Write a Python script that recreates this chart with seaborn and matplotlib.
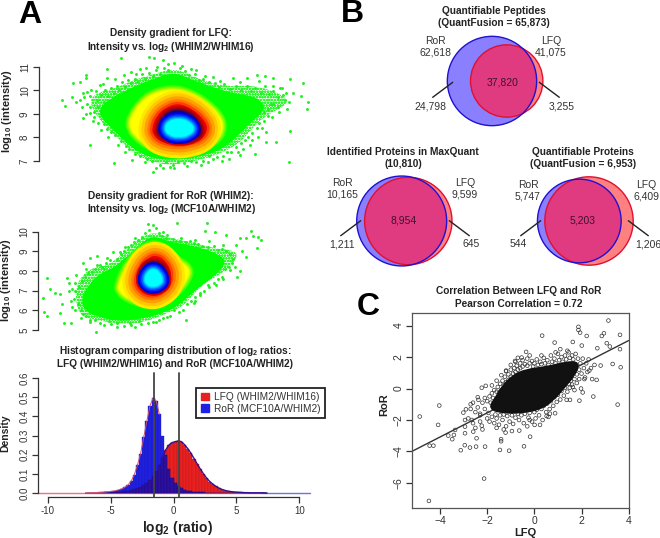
import numpy as np
import matplotlib
matplotlib.use("Agg")
import matplotlib.pyplot as plt
from matplotlib.path import Path
from matplotlib.patches import PathPatch, Circle, Patch
import seaborn as sns

sns.set_theme(style="white")
plt.rcParams["font.family"] = ["Liberation Sans", "DejaVu Sans"]
plt.rcParams["mathtext.fontset"] = "custom"
plt.rcParams["mathtext.rm"] = "Liberation Sans"
plt.rcParams["mathtext.bf"] = "Liberation Sans:bold"
plt.rcParams["hatch.linewidth"] = 0.8

# ---------- panel A, LFQ density gradient (log2 ratio, log10 intensity) ----------
lfq_halo = [(-6.3,9.59),(-5.5,9.94),(-4.4,10.08),(-3.1,10.43),(-1.9,10.65),(-0.2,10.93),(1.0,10.65),(2.1,10.36),
            (3.6,10.15),(5.5,10.22),(7.4,9.87),(8.1,9.45),(6.4,8.95),(5.5,8.46),(4.5,7.75),(2.9,7.25),(0.7,6.90),
            (-1.2,6.83),(-2.9,7.25),(-3.8,7.75),(-4.8,8.31),(-5.7,8.88)]
lfq_cloud = [(-5.48,9.30),(-4.52,9.73),(-3.1,10.15),(-1.9,10.43),(-0.24,10.79),(1.19,10.43),(2.62,10.12),(4.05,9.87),
             (5.71,9.73),(6.43,9.23),(5.48,8.74),(4.52,8.17),(3.57,7.61),(2.14,7.25),(0.24,7.04),(-1.43,7.07),
             (-2.86,7.40),(-3.81,7.89),(-4.76,8.46),(-5.48,8.88)]
lfq_yellow = [(-3.33,8.74),(-2.62,9.45),(-1.67,9.87),(-0.24,10.05),(0.95,9.87),(2.14,9.45),(3.1,8.88),(3.29,8.39),
              (2.86,7.89),(1.67,7.61),(0,7.47),(-1.9,7.61),(-2.86,8.03),(-3.29,8.39)]
lfq_red = [(-1.79,8.39),(-1.43,8.95),(-0.71,9.30),(0.12,9.45),(1.07,9.23),(1.9,8.81),(2.26,8.39),(1.9,7.96),
           (0.95,7.75),(0,7.68),(-1.19,7.82),(-1.67,8.10)]
lfq_navy = [(-1.31,8.39),(-0.95,8.88),(-0.24,9.16),(0.71,9.09),(1.43,8.74),(1.79,8.24),(1.31,7.96),(0.24,7.82),
            (-0.83,7.96),(-1.24,8.17)]
lfq_cyan = [(-0.9,8.39),(-0.6,8.71),(0.12,8.81),(0.83,8.71),(1.31,8.39),(0.95,8.10),(0.12,7.99),(-0.6,8.10)]
lfq_points = [(-8.2,9.61),(-8.0,9.33),(-7.4,10.32),(-6.9,10.36),(-6.5,10.65),(-6.5,10.51),(-7.5,9.7),(-7.2,9.52),
              (-6.9,9.59),(-6.7,8.81),(-6.2,7.68),(-4.5,6.93),(-4.0,11.35),(-2.0,11.42),(-1.6,11.35),(-1.0,11.28),
              (-5.0,10.9),(-0.2,11.17),(-1.7,6.55),(-1.0,6.69),(-0.2,6.69),(0.7,6.8),(1.7,6.83),(4.5,7.25),(5.6,7.28),
              (8.0,6.94),(6.4,8.24),(6.4,7.82),(7.1,7.82),(8.1,8.29),(9.3,9.19),(8.9,9.76),(9.4,9.52),(9.0,10.29),
              (8.1,10.46),(7.5,10.08),(6.9,10.51),(6.3,10.6),(5.7,10.65),(5.0,10.51),(4.0,10.51),(2.6,10.55),
              (1.4,10.86),(-2.6,10.89),(-3.3,10.79),(-4.4,10.46),(-5.0,10.51),(-5.5,10.22),(-6.2,9.3),(-6.4,9.94),
              (8.3,9.87),(7.7,9.59),(6.9,10.2),(5.9,10.4),(7.9,9.2),(7.3,9.1),(6.7,9.4),(6.2,8.7),(5.8,8.0),(5.2,7.7),
              (4.7,7.5),(3.7,7.1),(3.2,7.0),(2.2,6.95),(-0.5,6.75),(-1.5,6.72),(-2.3,6.95),(-3.2,7.05),(-3.7,7.4),
              (-4.2,7.7),(-4.9,8.0),(-5.4,8.3),(-6.0,8.7),(-6.5,9.0),(-6.8,9.3),(-6.1,10.0),(-5.3,10.25),(-3.8,10.65),
              (-2.9,10.7),(-2.2,10.95),(-1.4,11.0),(-0.6,11.1),(0.4,11.05),(1.0,10.9),(2.0,10.6),(3.1,10.4),(4.5,10.35)]
lfq_fringe = [(-5.9,9.1),(-5.7,9.6),(-5.6,9.3),(-5.4,9.8),(-5.2,9.5),(-5.1,10.0),(-4.9,9.75),(-4.7,10.1),(-4.5,9.9),(-4.3,10.2),
              (-4.1,10.0),(-3.9,10.35),(-3.7,10.15),(-3.5,10.45),(-3.3,10.3),(-3.0,10.5),(-2.8,10.35),(-2.5,10.7),(-2.3,10.5),
              (-2.0,10.75),(-1.7,10.6),(-1.5,10.85),(-1.2,10.7),(-0.9,10.95),(-0.6,10.85),(0.2,10.95),(0.6,10.8),(0.9,10.65),
              (1.3,10.7),(1.6,10.45),(1.9,10.5),(2.3,10.35),(2.7,10.3),(3.0,10.15),(3.4,10.25),(3.8,10.05),(4.2,10.2),(4.6,10.0),
              (5.0,10.2),(5.3,9.95),(5.6,10.1),(6.0,9.9),(6.3,10.2),(6.6,9.85),(6.9,9.95),(7.2,9.7),(7.4,10.1),(7.6,9.8),(7.8,9.9),
              (8.0,9.5),(6.5,9.2),(6.9,9.4),(7.2,9.3),(6.8,8.85),(6.5,8.9),(6.2,9.1),(5.9,8.6),(5.7,8.4),(6.1,8.4),(5.4,8.2),
              (5.1,8.0),(5.4,7.9),(4.9,7.9),(4.6,7.75),(4.2,7.6),(4.4,7.4),(3.9,7.4),(3.6,7.4),(3.3,7.2),(2.9,7.15),(2.6,7.1),
              (2.3,7.2),(1.9,7.0),(1.4,6.95),(1.0,7.0),(0.5,6.9),(0.1,6.95),(-0.3,6.85),(-0.8,6.95),(-1.2,6.85),(-1.8,7.0),
              (-2.1,7.1),(-2.6,7.2),(-3.0,7.3),(-3.4,7.5),(-3.6,7.65),(-4.0,7.85),(-4.4,8.1),(-4.7,8.25),(-5.0,8.35),(-5.2,8.55),
              (-5.6,8.6),(-5.9,8.85),(-6.2,9.05),(-6.4,9.4),(-6.6,9.7),(-6.2,9.75),(-5.8,9.95),(-6.7,9.9)]

# ---------- panel A, RoR density gradient ----------
ror_halo = [(-5.36,7.54),(-4.52,8.14),(-3.1,8.31),(-1.9,9.07),(-0.95,9.66),(0,10.0),(1.19,9.66),(2.62,9.49),(4.29,9.15),
            (5.71,9.07),(6.07,8.73),(5.24,8.05),(4.29,7.63),(3.33,7.2),(2.14,6.19),(0.95,5.85),(-0.48,5.42),(-2.14,5.25),
            (-4.05,5.51),(-5.24,5.68),(-5.6,6.69)]
ror_cloud = [(-4.52,7.37),(-3.81,7.88),(-2.86,8.14),(-1.9,8.73),(-0.95,9.32),(-0.12,9.83),(1.19,9.49),(2.62,9.32),(4.29,8.98),
             (5.24,8.56),(4.76,7.97),(3.81,7.46),(2.86,6.95),(1.9,6.27),(0.71,5.85),(-0.71,5.59),(-2.38,5.42),(-4.05,5.68),
             (-5,6.02),(-5.12,6.69)]
ror_yellow = [(-2.5,7.29),(-1.79,8.39),(-0.71,9.15),(0.12,9.37),(0.95,9.07),(1.43,8.64),(2.62,8.14),(2.38,7.54),
              (1.67,6.95),(0.48,6.36),(-0.71,6.36),(-1.79,6.61),(-2.38,6.95)]
ror_red = [(-1.31,7.46),(-0.95,8.22),(-0.36,8.69),(0.24,8.81),(0.83,8.56),(1.31,7.97),(1.19,7.29),(0.48,6.83),
           (-0.24,6.73),(-0.95,6.95)]
ror_navy = [(-0.95,7.54),(-0.71,8.14),(-0.24,8.42),(0.36,8.42),(0.83,8.05),(1.0,7.46),(0.6,7.07),(-0.12,6.95),(-0.71,7.17)]
ror_cyan = [(-0.67,7.58),(-0.43,7.97),(0,8.14),(0.43,7.97),(0.71,7.54),(0.48,7.29),(-0.05,7.17),(-0.48,7.29)]
ror_points = [(-7.6,7.63),(-7.9,6.61),(-7.8,5.93),(-7.6,5.73),(-7.4,7.07),(-7.0,6.9),(-6.7,6.83),(-6.5,6.31),(-6.2,7.63),
              (-6,7.37),(-5.9,5.34),(-6.4,5.34),(-6.7,5.85),(-5.8,6.15),(-5.5,7.8),(-5,8.39),(-4.5,8.64),(-4,8.76),
              (-3.3,8.64),(-2.9,8.98),(-2.4,8.98),(-4.1,4.88),(-2.6,5.14),(-5.2,5.59),(-1.7,5.34),(0.2,5.42),(2.3,5.51),
              (1.7,10.42),(3.8,10.42),(3.7,10.03),(4.4,9.97),(5.2,9.83),(7,10.03),(7.1,9.8),(7.7,9.58),(7.5,9.75),
              (6.6,9.69),(6.2,9.66),(7.4,9.15),(6.6,8.73),(6.2,8),(6,7.71),(5.5,8.05),(4.5,7.29),(3.3,6.78),(2.9,6.36),
              (-0.4,10.39),(0,10.34),(0.2,10.17),(0.7,10),(-1.3,9.66),(-2.0,9.2),(1.0,9.85),(2.0,9.7),(3.0,9.6),(4.0,9.5),
              (5.0,9.3),(5.9,9.3),(6.3,9.0),(5.8,8.2),(5.0,7.6),(4.0,7.2),(3.0,6.5),(1.8,5.9),(1.0,5.65),(-0.9,5.3),
              (-1.3,5.15),(-3.0,5.3),(-3.5,5.25),(-4.5,5.4),(-5.6,6.0),(-5.9,6.5),(-5.8,7.1),(-5.6,7.4),(-4.8,8.1),(-3.8,8.3)]
ror_fringe = [(-6.0,7.0),(-5.7,6.6),(-5.6,7.0),(-5.4,6.3),(-5.3,7.2),(-5.2,6.0),(-5.1,7.5),(-4.9,7.7),(-5.0,5.8),(-4.7,7.9),(-4.5,5.5),
              (-4.4,7.95),(-4.2,8.1),(-4.0,8.3),(-3.7,8.2),(-3.5,8.1),(-3.4,8.4),(-3.1,8.55),(-2.6,8.6),(-2.3,8.85),(-2.1,9.0),
              (-1.8,9.2),(-1.6,9.3),(-1.4,9.45),(-1.1,9.6),(-0.8,9.75),(-0.6,9.95),(-0.3,10.1),(0.4,9.95),(0.6,9.8),(0.9,9.7),
              (1.4,9.65),(1.6,9.5),(1.9,9.55),(2.3,9.45),(2.6,9.55),(2.9,9.4),(3.2,9.35),(3.5,9.25),(3.9,9.2),(4.3,9.25),(4.6,9.05),
              (4.9,9.1),(5.2,9.0),(5.5,8.85),(5.7,8.6),(5.6,8.4),(5.4,8.2),(5.1,8.1),(4.9,7.7),(4.6,7.6),(4.3,7.4),(3.9,7.3),
              (3.6,7.0),(3.3,6.9),(3.0,6.7),(2.7,6.5),(2.4,6.3),(2.1,6.0),(1.5,6.0),(1.2,5.7),(0.7,5.6),(0.4,5.5),(0,5.4),
              (-0.4,5.35),(-1.0,5.45),(-1.6,5.25),(-2.1,5.2),(-2.6,5.35),(-3.2,5.45),(-3.8,5.35),(-4.2,5.5),(-4.8,5.7)]

# ---------- panel A, histogram (bin starts at -7, bin width 0.25) ----------
hist_start, hist_width = -7.0, 0.25
lfq_density = [.001,.001,.001,.001,.002,.002,.003,.003,.004,.005,.006,.007,.009,.012,.015,.019,.025,.032,.04,.052,.068,.09,
               .115,.145,.185,.225,.25,.263,.268,.272,.268,.252,.232,.208,.18,.152,.125,.1,.078,.06,.046,.034,.025,.018,
               .013,.009,.007,.005,.004,.003,.002,.002,.001,.001,.001,.001,.001,0]
ror_density = [.001,.001,.002,.002,.003,.004,.005,.007,.009,.012,.016,.022,.03,.042,.062,.095,.145,.205,.29,.375,.455,.497,
               .48,.41,.30,.2,.125,.08,.052,.035,.024,.017,.012,.009,.006,.005,.004,.003,.002,.002,.001,.001,.001,.001,
               0,0,0,0,0,0,0,0,0,0,0,0,0,0]
hist_vlines = [-1.55, 0.45]
hist_legend = ["LFQ (WHIM2/WHIM16)", "RoR (MCF10A/WHIM2)"]
hist_xticks = [-10, -5, 0, 5, 10]
hist_yticks = [0.0, 0.1, 0.2, 0.3, 0.4, 0.5, 0.6]

# ---------- panel B, Venn counts ----------
venn_titles = [("Quantifiable Peptides", "(QuantFusion = 65,873)"),
               ("Identified Proteins in MaxQuant", "(10,810)"),
               ("Quantifiable Proteins", "(QuantFusion = 6,953)")]
venn_ror = [62618, 10165, 5747]
venn_lfq = [41075, 9599, 6409]
venn_both = [37820, 8954, 5203]
venn_ror_only = [24798, 1211, 544]
venn_lfq_only = [3255, 645, 1206]

# ---------- panel C, scatter (LFQ, RoR) ----------
corr_line_x = [-5.2, 4.0]
corr_line_y = [-4.0, 3.05]
corr_core = [(-1.88,-1.25),(-1.6,-0.62),(-1.31,0.12),(-0.89,0.76),(-0.33,1.14),(0.52,1.29),(1.37,1.61),(1.87,1.61),
             (1.65,0.86),(1.23,0.12),(0.81,-0.62),(0.24,-1.25),(-0.61,-1.47),(-1.31,-1.47)]
corr_lfq = [-4.86,-4.47,-4.03,-4.08,-4.44,-4.28,-2.13,3.14,3.63,0.33,1.87,1.87,1.94,2.22,2.86,2.95,0.86,1.63,2.01,3.07,3.2,
            2.67,3.63,2.81,3.32,3.66,3.53,2.5,1.91,2.64,2.33,-0.35,-0.54,-0.82,-1.2,-2.06,-2.23,-2.37,-2.7,-2.9,-3.01,
            -2.94,-2.94,-2.94,-3.36,-3.41,-3.65,-3.48,-2.95,-3.12,-2.73,-2.47,-2.09,-2.45,-1.46,-1.07,-1.41,-1.41,-0.44,
            -0.18,-0.64,-1.22,-2.59,-2.23,-2.65,-2.3,0.24,0.01,-0.2,0.88,0.66,0.52,1.51,1.37,1.98,2.05,2.12,1.63]
corr_ror = [-1.78,-7.14,-1.08,-2.31,-3.63,-3.63,-5.72,4.32,3.41,3.36,3.92,3.72,3.55,3.34,3.34,3.51,2.92,2.96,2.73,2.88,2.67,
            2.56,2.5,1.46,1.56,1.35,-1.02,-0.51,-0.77,0.55,1.14,2.33,1.97,1.75,1.14,0.17,0.05,-0.72,-1.0,-1.32,-1.53,
            -2.0,-2.42,-2.84,-2.63,-2.95,-2.99,-3.22,-3.6,-3.92,-3.75,-3.69,-3.69,-3.16,-3.9,-3.95,-3.22,-3.35,-3.67,
            -3.06,-2.67,-2.8,-2.74,-2.36,-2.0,-1.7,-2.31,-2.31,-2.0,-1.57,-1.6,-1.75,-0.72,-0.72,0.0,-0.25,0.6,0.1]
corr_fringe = [(-2.4,-1.2),(-2.3,-1.6),(-2.2,-0.9),(-2.1,-1.3),(-2.1,-0.6),(-2.0,-1.9),(-2.0,-0.8),(-1.95,-1.55),(-1.9,-0.5),(-1.9,-2.1),
               (-1.85,-0.9),(-1.8,-1.8),(-1.8,-0.3),(-1.75,-0.6),(-1.7,-2.2),(-1.7,-0.1),(-1.65,-1.65),(-1.6,-0.2),(-1.6,-1.9),(-1.55,0.1),
               (-1.5,-0.25),(-1.5,-2.3),(-1.45,0.3),(-1.45,-1.7),(-1.4,-0.1),(-1.35,0.5),(-1.35,-2.0),(-1.3,0.2),(-1.3,-1.65),(-1.25,0.75),
               (-1.2,0.4),(-1.2,-2.4),(-1.15,-1.75),(-1.1,0.9),(-1.1,0.55),(-1.05,-2.1),(-1.0,1.2),(-1.0,0.75),(-0.95,-1.7),(-0.9,0.95),
               (-0.9,-2.25),(-0.85,1.3),(-0.8,1.05),(-0.8,-1.85),(-0.75,1.45),(-0.7,-1.6),(-0.7,1.2),(-0.65,-2.0),(-0.6,1.6),(-0.6,1.3),
               (-0.55,-1.7),(-0.5,1.8),(-0.5,1.4),(-0.45,-2.2),(-0.4,1.55),(-0.4,-1.6),(-0.3,1.9),(-0.3,1.45),(-0.25,-1.85),(-0.2,1.6),
               (-0.2,-1.55),(-0.1,1.75),(-0.1,-2.1),(-0.05,1.4),(0,1.6),(0,-1.5),(0.05,-1.9),(0.1,1.85),(0.1,-1.35),(0.15,1.5),(0.2,-1.7),
               (0.25,1.7),(0.3,-1.3),(0.3,1.55),(0.35,-2.0),(0.4,1.95),(0.4,-1.1),(0.45,1.6),(0.5,-1.5),(0.55,1.8),(0.55,-0.95),(0.6,1.5),
               (0.65,-1.3),(0.7,2.1),(0.7,-0.8),(0.75,1.7),(0.8,-1.1),(0.85,1.9),(0.85,-0.55),(0.9,1.6),(0.95,-0.85),(1.0,2.2),(1.0,-0.4),
               (1.05,1.8),(1.1,-0.7),(1.15,2.0),(1.15,-0.15),(1.2,1.7),(1.25,-0.45),(1.3,2.1),(1.3,0.05),(1.35,1.85),(1.4,-0.2),(1.45,2.3),
               (1.45,0.3),(1.5,1.95),(1.5,0.05),(1.55,0.5),(1.6,2.1),(1.6,0.25),(1.65,1.85),(1.7,0.6),(1.7,-0.1),(1.75,2.2),(1.8,0.9),
               (1.8,0.35),(1.85,1.9),(1.9,1.2),(1.9,0.6),(1.95,1.6),(2.0,0.95),(2.05,1.9),(2.1,1.3),(2.15,0.7),(2.2,1.6),(2.25,1.05),
               (2.3,1.85),(2.4,1.3),(2.45,0.6),(2.55,1.5),(1.4,2.4),(1.1,2.5),(0.9,2.3),(-2.6,-0.9),(-2.5,-1.5),(-2.4,-0.55),(-2.7,-1.3),
               (-2.8,-1.9),(-2.6,-2.2),(-2.5,-2.5),(-2.3,-2.1),(-2.2,-2.6),(-1.6,-2.5),(-1.3,-2.6),(-0.95,-2.7),(-0.3,-2.4),(0.6,-1.8),
               (-1.8,0.2),(-1.6,0.5),(-1.4,0.85),(-1.2,1.1),(-1.0,1.5),(-0.8,1.7),(-0.7,1.95),(-0.2,2.1),(0.3,2.1)]
c_xticks = [-4, -2, 0, 2, 4]
c_yticks = [-6, -4, -2, 0, 2, 4]

# ---------- figure ----------
W, H = 660, 538
fig = plt.figure(figsize=(W/100, H/100), dpi=100, facecolor="white")
INK = "#222222"
GREY = "#333333"

def place(left, top, right, bottom):
    return fig.add_axes([left/W, 1-bottom/H, (right-left)/W, (bottom-top)/H], facecolor="none")

pix = fig.add_axes([0, 0, 1, 1], facecolor="none")
pix.set_xlim(0, W); pix.set_ylim(H, 0); pix.axis("off")

def blob_path(pts):
    p = np.array(pts, float)
    m = (p + np.roll(p, -1, axis=0)) / 2
    verts = [m[-1]]; codes = [Path.MOVETO]
    for a, b in zip(p, m):
        verts += [a, b]; codes += [Path.CURVE3, Path.CURVE3]
    verts.append(m[-1]); codes.append(Path.CLOSEPOLY)
    return Path(verts, codes)

def band(ax, pts, fill, strokes=(), z=2):
    path = blob_path(pts)
    for dist, col in strokes:
        ax.add_patch(PathPatch(path, fc=col, ec=col, lw=2*dist*0.72, joinstyle="round", zorder=z))
    ax.add_patch(PathPatch(path, fc=fill, ec="none", zorder=z))

YELLOW = [(5,"#40ff00"),(3.5,"#80ff00"),(2,"#c0ff00"),(1,"#e8ff00")]
RED = [(14,"#ffe800"),(11,"#ffc800"),(8,"#ffa000"),(5,"#ff7800"),(2.5,"#ff4000")]
NAVY = [(5,"#d00000"),(3.5,"#a00010"),(2,"#700030"),(1,"#400050")]
CYAN = [(7,"#0000d0"),(5,"#0020ff"),(3.5,"#0060ff"),(2,"#00a0ff"),(1,"#00d0ff")]

def density_panel(ax, halo, cloud, yellow, red, navy, cyan, points, fringe, yticks):
    ax.add_patch(PathPatch(blob_path(halo), fc="none", ec="#30f830", lw=0, hatch="oooooo", zorder=1))
    band(ax, cloud, "#00ff00")
    xy = np.array(points + fringe)
    sns.scatterplot(x=xy[:,0], y=xy[:,1], ax=ax, s=4.5, color="#20f020", linewidth=0, zorder=2)
    band(ax, yellow, "#ffff00", YELLOW, z=3)
    band(ax, red, "#f00000", RED, z=4)
    band(ax, navy, "#000090", NAVY, z=5)
    band(ax, cyan, "#00ffff", CYAN, z=6)
    sns.despine(ax=ax, bottom=True, right=True, top=True)
    ax.spines["left"].set_bounds(yticks[0], yticks[-1])
    ax.spines["left"].set_color(GREY); ax.spines["left"].set_linewidth(0.9)
    ax.set_xticks([]); ax.set_yticks(yticks)
    ax.tick_params(axis="y", direction="out", left=True, length=4.5, width=0.9, color=GREY, labelsize=7, labelcolor=GREY, pad=2)
    for t in ax.get_yticklabels():
        t.set_rotation(90); t.set_va("center")

a1 = place(39, 50, 326, 178)
a1.set_xlim((39-176.7)/14, (326-176.7)/14); a1.set_ylim(6.28, 11.71)
density_panel(a1, lfq_halo, lfq_cloud, lfq_yellow, lfq_red, lfq_navy, lfq_cyan, lfq_points, lfq_fringe, [7, 8, 9, 10, 11])

a2 = place(38.3, 216, 326, 338)
a2.set_xlim((38.3-153.3)/14, (326-153.3)/14)
py = 19.67
a2.set_ylim(5-(338-(170+480/3))/py, 10+((170+185/3)-216)/py)
density_panel(a2, ror_halo, ror_cloud, ror_yellow, ror_red, ror_navy, ror_cyan, ror_points, ror_fringe, [5, 6, 7, 8, 9, 10])

# histogram
h = place(38.3, 370, 312, 497.3)
edges = hist_start + hist_width*np.arange(len(lfq_density)+1)
mids = (edges[:-1] + edges[1:]) / 2
bin_list = edges.tolist()
lfq = np.array(lfq_density); ror = np.array(ror_density)
RED_BAR, BLUE_BAR, DARK_BAR = "#ea2020", "#2020e0", "#2c109e"
sns.histplot(x=mids, weights=lfq, bins=bin_list, ax=h, color=RED_BAR, alpha=1, edgecolor="#b01818", linewidth=0.25, zorder=2)
sns.histplot(x=mids, weights=ror, bins=bin_list, ax=h, color=BLUE_BAR, alpha=1, edgecolor="#1818b0", linewidth=0.25, zorder=3)
sns.histplot(x=mids, weights=np.minimum(lfq, ror), bins=bin_list, ax=h, color=DARK_BAR, alpha=1, edgecolor="#1c0880", linewidth=0.25, zorder=4)
sns.lineplot(x=mids[mids > -1], y=lfq[mids > -1], ax=h, color="#301090", lw=1.0, zorder=5)
sns.lineplot(x=mids[mids < -1], y=ror[mids < -1], ax=h, color="#d05070", lw=0.7, zorder=5)
h.plot([-10.75, 7], [0, 0], color="#f07080", lw=1.0, zorder=1)
h.plot([7, 10.85], [0, 0], color="#7070e0", lw=1.0, zorder=1)
for v in hist_vlines:
    h.plot([v, v], [-0.022, 0.625], color="#444444", lw=1.3, zorder=6, clip_on=False)
h.set_xlim(-10.75, 11); h.set_ylim(-0.0224, 0.642)
sns.despine(ax=h)
h.spines["left"].set_bounds(0, 0.6); h.spines["bottom"].set_bounds(-10, 10)
for s in ("left", "bottom"):
    h.spines[s].set_color(GREY); h.spines[s].set_linewidth(0.9)
h.set_xticks(hist_xticks); h.set_xticklabels([str(v) for v in hist_xticks])
h.set_yticks(hist_yticks); h.set_yticklabels([f"{v:.1f}" for v in hist_yticks])
h.tick_params(direction="out", left=True, bottom=True, length=4.5, width=0.9, color=GREY, labelsize=7, labelcolor=GREY, pad=2)
for t in h.get_yticklabels():
    t.set_rotation(90); t.set_va("center")
h.set_xlabel(""); h.set_ylabel("")
h.legend(handles=[Patch(color=RED_BAR, label=hist_legend[0]), Patch(color=BLUE_BAR, label=hist_legend[1])],
         loc="upper left", bbox_to_anchor=(196/W, 1-387.5/H), bbox_transform=fig.transFigure,
         fontsize=7.3, frameon=True, fancybox=False, framealpha=1, edgecolor="#222222", labelcolor=GREY,
         borderpad=0.45, handlelength=0.8, handleheight=0.8, handletextpad=0.5, labelspacing=0.15, borderaxespad=0)
h.get_legend().get_frame().set_linewidth(1.3)

# correlation scatter
c = place(411.7, 313.3, 628.7, 508)
fringe_xy = np.array(corr_fringe)
sns.scatterplot(x=corr_lfq + fringe_xy[:,0].tolist(), y=corr_ror + fringe_xy[:,1].tolist(), ax=c, s=7,
                facecolor="none", edgecolor="#333333", linewidth=0.5, zorder=2)
c.add_patch(PathPatch(blob_path(corr_core), fc="#111111", ec="#111111", lw=3, zorder=3))
sns.lineplot(x=corr_line_x, y=corr_line_y, ax=c, color="#333333", lw=1.0, zorder=1)
c.set_xlim(-5.2, 4.0); c.set_ylim(-7.59, 4.78)
for s in c.spines.values():
    s.set_color("#555555"); s.set_linewidth(0.9); s.set_visible(True)
c.set_xticks(c_xticks); c.set_yticks(c_yticks)
c.tick_params(direction="out", left=True, bottom=True, length=4, width=0.9, color=GREY, labelsize=7.5, labelcolor=GREY, pad=2)
for t in c.get_yticklabels():
    t.set_rotation(90); t.set_va("center")

# Venns (radius proportional to the square root of the count)
venn_centers = [((492, 81), (506.7, 81)), ((401.7, 221), (408.3, 221)), ((579.3, 221), (589, 221))]
venn_scale = [0.1785, 0.446, 0.552]
for (cb, cr), sc, nb, nr in zip(venn_centers, venn_scale, venn_ror, venn_lfq):
    rb, rr = sc*np.sqrt(nb), sc*np.sqrt(nr)
    blue = Circle(cb, rb, fc="#8a80ff", ec="none", zorder=2); pix.add_patch(blue)
    red = Circle(cr, rr, fc="#ff8080", ec="none", zorder=2); pix.add_patch(red)
    both = Circle(cr, rr, fc="#e03a80", ec="none", zorder=3); pix.add_patch(both)
    both.set_clip_path(Circle(cb, rb, transform=pix.transData))
    pix.add_patch(Circle(cr, rr, fc="none", ec="#e01030", lw=1.0, zorder=4))
    pix.add_patch(Circle(cb, rb, fc="none", ec="#2010d0", lw=1.0, zorder=5))

def txt(x, y, s, size=7.5, bold=False, color=INK, rot=0):
    pix.text(x, y, s, fontsize=size, fontweight="bold" if bold else "normal", color=color, rotation=rot,
             ha="center", va="center", zorder=10)

def fmt(n):
    return f"{n:,}"

venn_label_layout = [
    dict(rx=435.7, lx=551, ry=40.7, oy=52.3, mx=502.7, my=82.7, ox=(430.7, 561.7), oyy=106.3,
         seg=((432.7, 97.3, 452.7, 82.3), (559.3, 97.3, 539.3, 82.3)), tx=494, ty=(11, 23)),
    dict(rx=342.3, lx=465, ry=183, oy=194.7, mx=404, my=220.3, ox=(342.3, 471.3), oyy=244.3,
         seg=((340.7, 235.7, 360.7, 220.7), (469.3, 235.7, 449.3, 220.7)), tx=403, ty=(152, 164)),
    dict(rx=528, lx=646, ry=184.7, oy=196.7, mx=582.3, my=220.3, ox=(518.3, 648.3), oyy=244.3,
         seg=((520.7, 235.7, 540.7, 220.7), (648.3, 235.7, 628.3, 220.7)), tx=583, ty=(152, 164)),
]
for i, L in enumerate(venn_label_layout):
    txt(L["tx"], L["ty"][0], venn_titles[i][0], 7.3, True)
    txt(L["tx"], L["ty"][1], venn_titles[i][1], 7.3, True)
    txt(L["rx"], L["ry"], "RoR", color=GREY); txt(L["rx"], L["oy"], fmt(venn_ror[i]), color=GREY)
    txt(L["lx"], L["ry"], "LFQ", color=GREY); txt(L["lx"], L["oy"], fmt(venn_lfq[i]), color=GREY)
    txt(L["mx"], L["my"], fmt(venn_both[i]), color="#401030")
    txt(L["ox"][0], L["oyy"], fmt(venn_ror_only[i]), color=GREY)
    txt(L["ox"][1], L["oyy"], fmt(venn_lfq_only[i]), color=GREY)
    for x0, y0, x1, y1 in L["seg"]:
        pix.plot([x0, x1], [y0, y1], color="#222222", lw=1.0, zorder=9)

# Titles and labels
txt(30, 15, "A", 23, True, "black"); txt(352, 14, "B", 23, True, "black"); txt(368, 307, "C", 23, True, "black")
txt(171, 33, "Density gradient for LFQ:", 7.3, True)
txt(171, 46.5, r"Intensity vs. log$_\mathbf{2}$ (WHIM2/WHIM16)", 7.3, True)
txt(171, 196, "Density gradient for RoR (WHIM2):", 7.3, True)
txt(171, 209.5, r"Intensity vs. log$_\mathbf{2}$ (MCF10A/WHIM2)", 7.3, True)
txt(175, 350.5, r"Histogram comparing distribution of log$_\mathbf{2}$ ratios:", 7.3, True)
txt(175, 364, "LFQ (WHIM2/WHIM16) and RoR (MCF10A/WHIM2)", 7.3, True)
txt(519, 291, "Correlation Between LFQ and RoR", 7.3, True)
txt(519, 304, "Pearson Correlation = 0.72", 7.3, True)
txt(7, 111, r"log$_\mathbf{10}$ (intensity)", 8, True, rot=90)
txt(6, 280, r"log$_\mathbf{10}$ (intensity)", 8, True, rot=90)
txt(5, 433, "Density", 7.5, True, rot=90)
txt(178, 528, r"log$_\mathbf{2}$ (ratio)", 10, True)
txt(384, 405, "RoR", 8, True, rot=90)
txt(525, 533, "LFQ", 8, True)

fig.savefig("out.png", dpi=100, facecolor="white")
